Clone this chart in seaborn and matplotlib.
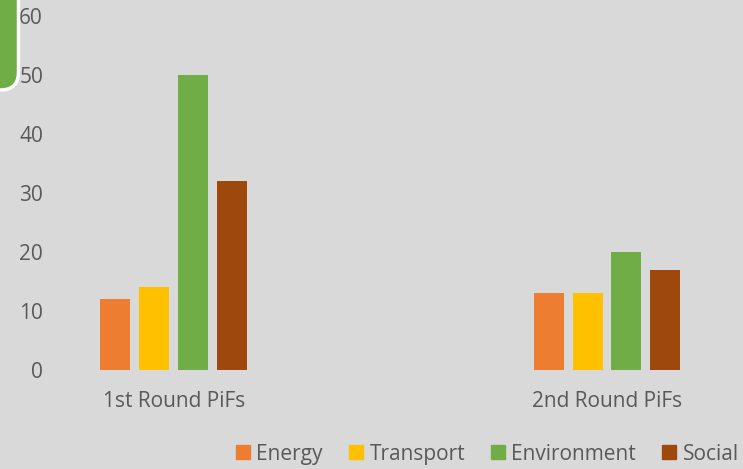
import pandas as pd
import matplotlib.pyplot as plt
import matplotlib.patches as mpatches
import seaborn as sns

# Chart data
rounds = ["1st Round PiFs", "2nd Round PiFs"]
sectors = ["Energy", "Transport", "Environment", "Social"]
energy = [12, 13]
transport = [14, 13]
environment = [50, 20]
social = [32, 17]
colors = ["#ed7d31", "#ffc000", "#70ad47", "#9e480e"]

df = pd.DataFrame({
    "round": rounds * 4,
    "sector": [s for s in sectors for _ in rounds],
    "value": energy + transport + environment + social,
})

sns.set_theme(style="white")
plt.rcParams['font.family'] = ['Open Sans', 'DejaVu Sans']

bg = "#d9d9d9"
txt = "#595959"
fs = 15
fig = plt.figure(figsize=(7.43, 4.69), dpi=100, facecolor=bg)
ax = fig.add_axes([50 / 743, 99 / 469, 693 / 743, 354 / 469])
ax.set_facecolor(bg)

sns.barplot(data=df, x="round", y="value", hue="sector", order=rounds,
            hue_order=sectors, palette=colors, width=0.36, gap=0.23,
            saturation=1, linewidth=0, ax=ax, legend=False)

ax.set_xlim(-0.286, 1.314)
ax.set_ylim(0, 60)
ax.set_yticks(range(0, 61, 10))
ax.set_xlabel("")
ax.set_ylabel("")
for s in ax.spines.values():
    s.set_visible(False)
ax.tick_params(axis="y", length=0, pad=5, labelsize=fs, labelcolor=txt)
ax.tick_params(axis="x", length=0, pad=15, labelsize=fs, labelcolor=txt)

# Legend
handles = [mpatches.Patch(color=c, label=s) for c, s in zip(colors, sectors)]
fig.legend(handles=handles, loc="center right", bbox_to_anchor=(1.014, 15 / 469),
           ncol=4, frameon=False, fontsize=fs, handlelength=0.68, handleheight=0.68,
           handletextpad=0.3, columnspacing=1.25, labelcolor=txt, borderpad=0.2)

# Green shape in the top-left corner
shape = mpatches.FancyBboxPatch((-0.3, 3.79), 0.485, 1.2,
                                boxstyle="round,pad=0,rounding_size=0.18",
                                facecolor="#70ad47", edgecolor="white", linewidth=2.5,
                                transform=fig.dpi_scale_trans, zorder=10)
fig.patches.append(shape)

fig.savefig("out.png", dpi=100, facecolor=bg)
